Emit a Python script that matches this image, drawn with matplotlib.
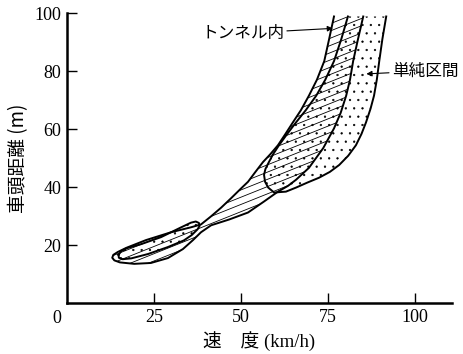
import matplotlib
matplotlib.use("Agg")
import matplotlib.pyplot as plt
import numpy as np
from matplotlib.patches import Polygon

# ---------------- data ----------------
# Tunnel section region (hatched): outline, open at the top
tunnel_speed = [76.7, 75.3, 73.9, 71.8, 69.5, 67.2, 64.9, 62.7, 60.6, 58.4, 56.3, 54.0, 52.0, 50.0, 47.2,
                44.3, 41.3, 38.5, 35.6, 29.9, 22.7, 17.0, 14.6, 13.3, 13.0, 13.6, 15.2, 19.3, 24.1, 29.0, 33.3,
                36.2, 38.5, 41.4, 46.6, 52.0, 56.6, 60.6, 63.5, 65.8, 69.5, 73.6, 76.7, 78.6, 80.2,
                81.3, 82.2, 83.6, 85.1]
tunnel_gap = [98.8, 91.0, 83.4, 77.0, 71.5, 66.5, 62.3, 58.2, 54.4, 51.3, 48.6, 45.0, 41.8, 39.5, 36.2,
              32.9, 29.8, 27.1, 26.1, 24.4, 21.7, 19.0, 17.6, 16.6, 15.6, 14.7, 14.0, 13.5, 13.8, 15.5, 18.6,
              21.7, 24.4, 26.8, 28.8, 31.2, 35.0, 38.4, 40.4, 42.5, 46.6, 53.4, 60.2, 65.5, 71.5,
              77.0, 83.4, 91.0, 98.8]

# Simple section region (dotted), high-speed part, open at the top
simple_speed = [80.7, 78.8, 76.7, 74.2, 71.6, 68.6, 65.8, 63.2, 60.9, 59.2, 58.0, 57.0, 56.6, 56.9,
                57.8, 59.5, 62.9, 65.8, 69.0, 72.4, 75.5, 78.2, 80.8, 83.0, 84.6, 85.9, 87.2, 88.2,
                89.0, 89.7, 90.6, 91.7]
simple_gap = [98.8, 91.0, 83.4, 77.0, 71.5, 66.5, 62.3, 58.2, 54.4, 51.3, 48.6, 46.2, 44.2, 41.8,
              39.8, 38.1, 38.4, 39.8, 41.5, 43.2, 45.2, 47.6, 50.8, 54.4, 58.3, 62.3, 67.0, 71.5,
              77.0, 83.4, 91.0, 98.8]

# Simple section region (dotted), low-speed part (closed)
simple_low_speed = [14.8, 15.6, 17.2, 21.3, 27.0, 32.8, 35.6, 37.0, 37.9, 38.1, 37.5, 35.8, 33.6,
                    29.0, 23.3, 18.5, 16.0, 14.9, 14.8]
simple_low_gap = [16.6, 17.9, 18.9, 20.3, 22.7, 26.1, 27.7, 28.1, 27.6, 26.6, 25.4, 23.4, 21.6,
                  19.3, 16.9, 15.4, 15.1, 15.6, 16.6]

x_ticks = [25, 50, 75, 100]
y_ticks = [20, 40, 60, 80, 100]
label_tunnel = "トンネル内"
label_simple = "単純区間"
xlabel = "速\u3000度 (km/h)"
ylabel = "車頭距離 (m)"

# ---------------- figure ----------------
plt.rcParams['hatch.color'] = 'black'
plt.rcParams['hatch.linewidth'] = 0.4
fam = ['Liberation Serif', 'Noto Sans CJK JP']
cjk = ['Noto Sans CJK JP', 'Liberation Serif']

fig = plt.figure(figsize=(4.64, 3.54), dpi=100)
ax = fig.add_axes([67/464, 1 - 303/354, (452 - 67)/464, (303 - 13)/354])
ax.set_xlim(0, 110.6)
ax.set_ylim(0, 100)

# tunnel region: hatch lines clipped to polygon
tpoly = Polygon(np.column_stack([tunnel_speed, tunnel_gap]), closed=True,
                facecolor='none', edgecolor='none', lw=0)
ax.add_patch(tpoly)
xs = np.array([0, 111])
for c in np.arange(-60, 100, 2.5):
    ln, = ax.plot(xs, 0.48 * xs + c, color='black', lw=0.6)
    ln.set_clip_path(tpoly)
ax.plot(tunnel_speed, tunnel_gap, color='black', lw=1.4, solid_joinstyle='round')

# simple regions: dots
for sx, sy in [(simple_speed, simple_gap), (simple_low_speed, simple_low_gap)]:
    dots = Polygon(np.column_stack([sx, sy]), closed=True, facecolor='none',
                   edgecolor='black', lw=0, hatch='..')
    ax.add_patch(dots)
    ax.plot(sx, sy, color='black', lw=1.4, solid_joinstyle='round')

# annotations
ax.annotate(label_tunnel, xy=(76.4, 94.7), xytext=(38.5, 93.0), fontsize=12,
            family=cjk, va='center', ha='left',
            arrowprops=dict(arrowstyle='-|>', color='black', lw=0.8, mutation_scale=8,
                            shrinkA=0, shrinkB=0))
ax.annotate(label_simple, xy=(86.0, 79.0), xytext=(93.3, 80.0), fontsize=12,
            family=cjk, va='center', ha='left', annotation_clip=False,
            arrowprops=dict(arrowstyle='-|>', color='black', lw=0.8, mutation_scale=8,
                            shrinkA=0, shrinkB=0))

# axes styling
for s in ['top', 'right']:
    ax.spines[s].set_visible(False)
for s in ['left', 'bottom']:
    ax.spines[s].set_linewidth(1.8)
ax.set_xticks(x_ticks)
ax.set_yticks(y_ticks)
ax.tick_params(direction='in', length=7, width=1.0, labelsize=13, pad=4)
for lab in ax.get_xticklabels() + ax.get_yticklabels():
    lab.set_family(fam)
ax.annotate("0", xy=(0, 0), xytext=(-7, -11), textcoords='offset points',
            fontsize=13, family=fam, ha='center', va='center', annotation_clip=False)

ax.set_xlabel(xlabel, fontsize=13.5, family=fam, labelpad=4)
ax.set_ylabel(ylabel, fontsize=13.5, family=cjk, labelpad=4)

fig.savefig("out.png", dpi=100)
